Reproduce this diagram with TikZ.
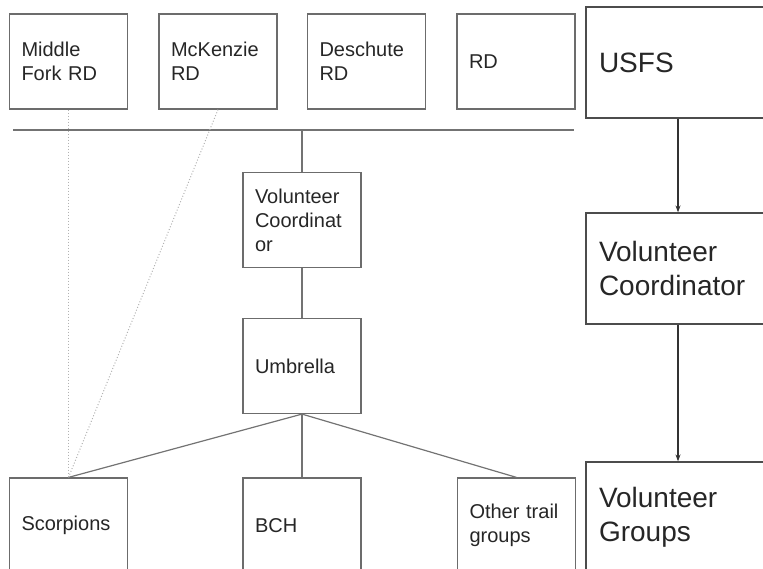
\documentclass[tikz,border=0pt]{standalone}
\usepackage{fontspec}
\setmainfont{Liberation Sans}
\usetikzlibrary{arrows.meta}

\begin{document}
\begin{tikzpicture}[x=1pt,y=-1pt,
  box/.style={draw=gray!85!black, line width=1.2pt, minimum width=118pt, minimum height=95pt,
    inner xsep=12pt, inner ysep=0pt, text width=94pt, align=left,
    font=\fontsize{20}{24}\selectfont, text=black!85},
  bigbox/.style={draw=black!70, line width=1.2pt, minimum width=184pt, minimum height=111pt,
    inner xsep=13pt, inner ysep=0pt, text width=158pt, align=left,
    font=\fontsize{28}{34}\selectfont, text=black!85},
  link/.style={gray!90!black, line width=1.2pt},
  hint/.style={gray!60, dotted, line width=1pt},
  arr/.style={-{Stealth[length=7pt,width=5pt]}, black!80, line width=1.2pt}]
\clip (0,0) rectangle (763,569);
% ranger districts
\node[box] (mfork) at (68.5,61.5) {Middle\\Fork RD};
\node[box] (mckenzie) at (218,61.5) {McKenzie\\RD};
\node[box] (deschute) at (366.5,61.5) {Deschute\\RD};
\node[box] (rd) at (516,61.5) {RD};
\coordinate (barL) at (13,130);
\coordinate (barR) at (574,130);
\draw[link] (barL) -- (barR);
% middle chain
\node[box] (vcoord) at (302,220) {Volunteer\\Coordinat\\or};
\node[box] (umbrella) at (302,366) {Umbrella};
\draw[link] (vcoord.north |- barL) -- (vcoord.north);
\draw[link] (vcoord.south) -- (umbrella.north);
% trail groups
\node[box] (scorpions) at (68.5,525.5) {Scorpions};
\node[box] (bch) at (302,525.5) {BCH};
\node[box] (others) at (516.5,525.5) {Other trail\\groups};
\foreach \grp in {scorpions,bch,others}
  \draw[link] (umbrella.south) -- (\grp.north);
\draw[hint] (mfork.south) -- (scorpions.north);
\draw[hint] (mckenzie.south) -- (scorpions.north);
% right column
\node[bigbox] (usfs) at (678,62.5) {USFS};
\node[bigbox] (vcright) at (678,268.5) {Volunteer\\Coordinator};
\node[bigbox] (vgroups) at (678,517.5) {Volunteer\\Groups};
\draw[arr] (usfs) -- (vcright);
\draw[arr] (vcright) -- (vgroups);
\end{tikzpicture}
\end{document}
